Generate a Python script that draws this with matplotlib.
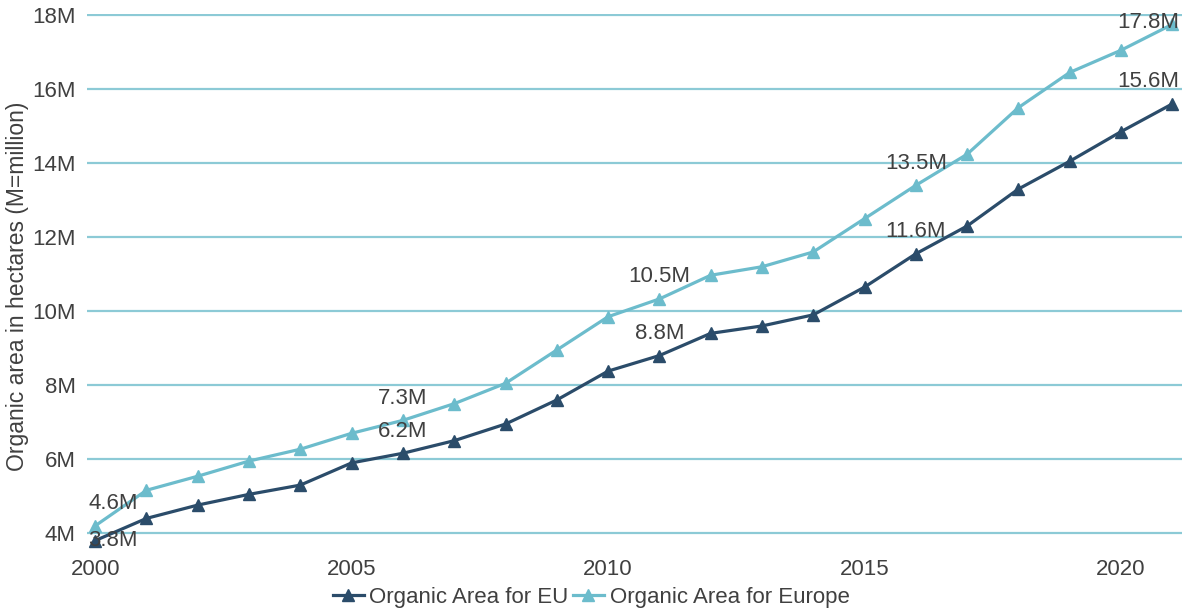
import matplotlib
matplotlib.use("Agg")
import matplotlib.pyplot as plt

plt.rcParams['font.family'] = ['Liberation Sans', 'DejaVu Sans']

years = list(range(2000, 2022))
eu = [3.8, 4.4, 4.76, 5.05, 5.3, 5.9, 6.16, 6.5, 6.95, 7.6, 8.38, 8.8,
      9.4, 9.6, 9.9, 10.65, 11.55, 12.3, 13.3, 14.05, 14.85, 15.6]
europe = [4.2, 5.16, 5.54, 5.95, 6.27, 6.7, 7.05, 7.5, 8.05, 8.95, 9.85, 10.33,
          10.97, 11.2, 11.6, 12.5, 13.4, 14.24, 15.5, 16.45, 17.05, 17.75]

# labelled points: year -> text
eu_labels = {2000: "3.8M", 2006: "6.2M", 2011: "8.8M", 2016: "11.6M", 2021: "15.6M"}
europe_labels = {2000: "4.6M", 2006: "7.3M", 2011: "10.5M", 2016: "13.5M", 2021: "17.8M"}

yticks = [4, 6, 8, 10, 12, 14, 16, 18]
ytick_labels = ["4M", "6M", "8M", "10M", "12M", "14M", "16M", "18M"]
xticks = [2000, 2005, 2010, 2015, 2020]

c_eu = "#2b4c6a"
c_europe = "#6cbccc"
c_grid = "#8ccad6"
c_text = "#404040"

fig = plt.figure(figsize=(11.82, 6.12), dpi=100)
ax = fig.add_axes([87 / 1182, 1 - 548 / 612, 1 - 87 / 1182, (548 - 14) / 612])

ax.plot(years, eu, color=c_eu, lw=2.3, marker="^", ms=8, label="Organic Area for EU", zorder=3)
ax.plot(years, europe, color=c_europe, lw=2.3, marker="^", ms=8, label="Organic Area for Europe", zorder=3)

def put_labels(series, labels, top=False):
    for yr, txt in labels.items():
        v = series[years.index(yr)]
        dx, dy = 0, 16
        if yr == 2000:
            dx = 13
            if not top:
                dy = 0
        if yr == 2021:
            dx = -17
            if top:
                dy = 1
        ax.annotate(txt, (yr, v), xytext=(dx, dy), textcoords="offset points",
                    ha="center", va="center", fontsize=16, color=c_text, zorder=4)

put_labels(eu, eu_labels)
put_labels(europe, europe_labels, top=True)

ax.set_xlim(1999.84, 2021.19)
ax.set_ylim(3.6, 18.03)
ax.set_yticks(yticks)
ax.set_yticklabels(ytick_labels)
ax.set_xticks(xticks)
ax.grid(axis="y", color=c_grid, lw=1.6)
ax.set_axisbelow(True)
for s in ax.spines.values():
    s.set_visible(False)
ax.tick_params(length=0, labelsize=16, colors=c_text, pad=8)
ax.tick_params(axis="y", pad=8)
ax.set_ylabel("Organic area in hectares (M=million)", fontsize=16.5, color=c_text)
ax.yaxis.set_label_coords(-0.053, 0.49)

fig.legend(loc="center", bbox_to_anchor=(0.5, 1 - 597 / 612), ncol=2, frameon=False,
           fontsize=16, handlelength=1.4, handletextpad=0.25, columnspacing=0.2,
           labelcolor=c_text)

fig.savefig("out.png", dpi=100)
